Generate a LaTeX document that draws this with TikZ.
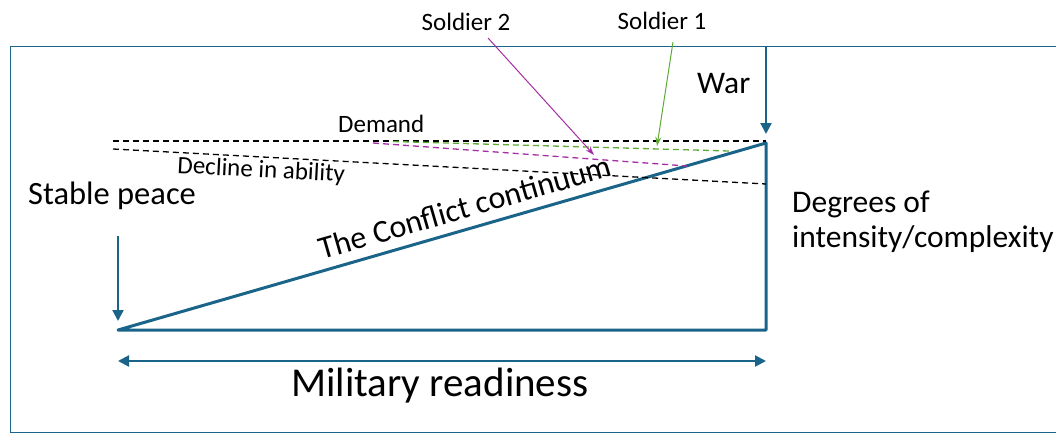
\documentclass[tikz,border=0pt]{standalone}
\usepackage{fontspec}
\setmainfont{Carlito}
\usetikzlibrary{arrows.meta}
\definecolor{tblue}{RGB}{27,100,137}
\definecolor{sgreen}{RGB}{92,170,50}
\definecolor{smag}{RGB}{165,45,165}
\begin{document}
\begin{tikzpicture}[x=1pt,y=-1pt,
  thickblue/.style={draw=tblue,line width=3pt},
  bluearrow/.style={draw=tblue,line width=2.2pt,-{Triangle[length=11pt,width=11pt]}},
  dline/.style={line width=1.3pt,dash pattern=on 6pt off 4pt},
  label/.style={inner sep=0pt,anchor=base west},
  big/.style={font=\fontsize{31.5}{36}\selectfont},
  small/.style={font=\fontsize{25}{30}\selectfont},
  solarrow/.style={line width=1pt,-{Stealth[length=9pt,width=6pt]}}]
\useasboundingbox (0,0) rectangle (1056,444);
\begin{scope}
\clip (0,0) rectangle (1056,444);
\draw[tblue,line width=1pt] (10,46.5) rectangle (1070,432);
\end{scope}
% triangle
\coordinate (bl) at (118,330);
\coordinate (br) at (766,330);
\coordinate (tr) at (766,143);
\draw[thickblue,line join=round] (bl) -- (br) -- (tr) -- cycle;
% dashed lines
\coordinate (d1) at (113,141);
\coordinate (d2) at (766,141);
\coordinate (c1) at (113,149);
\coordinate (c2) at (766,184);
\draw[dline,black] (d1) -- (d2);
\draw[dline,black] (c1) -- (c2);
\coordinate (g1) at (393,141.5);
\coordinate (g2) at (729,151);
\coordinate (m1) at (373,143);
\coordinate (m2) at (687,166);
\draw[dline,sgreen] (g1) -- (g2);
\draw[dline,smag] (m1) -- (m2);
% War arrow
\coordinate (w0) at (766,47);
\coordinate (w1) at (766,134);
\draw[bluearrow] (w0) -- (w1);
\node[label,big] (war) at (697,93) {War};
% Stable peace
\coordinate (s0) at (118,236);
\coordinate (s1) at (118,321);
\draw[bluearrow] (s0) -- (s1);
\node[label,font=\fontsize{32.5}{36}\selectfont] (peace) at (28,204) {Stable peace};
% Degrees
\node[label,big] (deg1) at (792,212) {Degrees of};
\node[label,big] (deg2) at (792,247) {intensity/complexity};
% Military readiness
\coordinate (r0) at (118,361);
\coordinate (r1) at (766,361);
\draw[draw=tblue,line width=2.2pt,{Triangle[length=11pt,width=11pt]}-{Triangle[length=11pt,width=11pt]}] (r0) -- (r1);
\node[label,font=\fontsize{41}{46}\selectfont] (mil) at (291,396) {Military readiness};
% labels
\node[label,small] (dem) at (338,132) {Demand};
\node[label,small,rotate=-3] (dec) at (177,173) {Decline in ability};
\node[inner sep=0pt,rotate=16.1,font=\fontsize{32}{36}\selectfont] (conf) at (465,207) {The Conflict continuum};
% soldiers
\node[inner sep=0pt,small] (s2) at (466,22) {Soldier 2};
\node[inner sep=0pt,small] (s1l) at (662,21) {Soldier 1};
\coordinate (s2a) at (488,38);
\coordinate (s2b) at (594,155);
\coordinate (s1a) at (673,42);
\coordinate (s1b) at (657,146);
\draw[solarrow,smag] (s2a) -- (s2b);
\draw[solarrow,sgreen] (s1a) -- (s1b);
\end{tikzpicture}
\end{document}
